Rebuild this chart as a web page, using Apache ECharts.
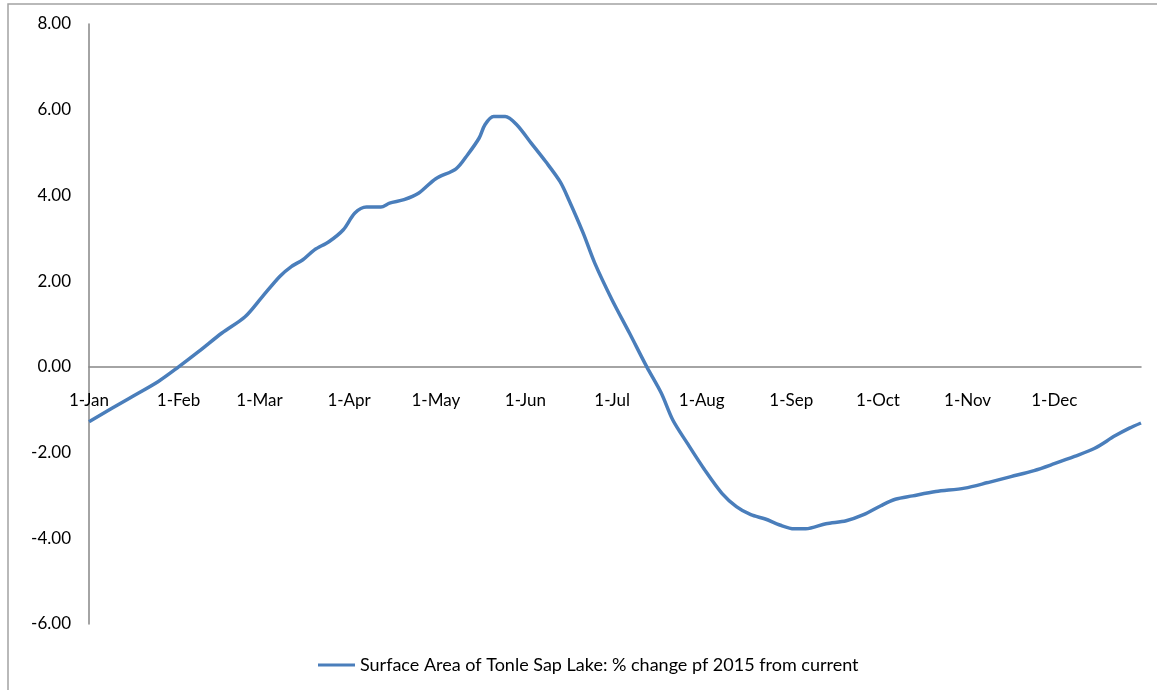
<!DOCTYPE html>
<html>
<head>
<meta charset="utf-8">
<script src="https://cdn.jsdelivr.net/npm/echarts@6/dist/echarts.min.js"></script>
<style>
  html, body { margin: 0; padding: 0; background: #fff; }
  #chart { width: 1157px; height: 690px; }
</style>
</head>
<body>
<div id="chart"></div>
<script>
// day of year (0 = 1-Jan) and % change
var days = [0, 14, 24, 31, 38, 46, 54, 60, 66, 70,
  74, 78, 83, 88, 92, 96, 101, 104, 109, 114,
  120, 127, 131, 135, 137, 140, 144, 148, 153, 158,
  163, 166, 171, 175, 181, 187, 193, 198, 202, 207,
  213, 219, 224, 229, 234, 239, 244, 248, 255, 262,
  268, 274, 279, 285, 293, 303, 311, 319, 327, 334,
  341, 348, 355, 360, 364];
var values = [-1.28, -0.73, -0.34, 0.0, 0.36, 0.79, 1.17, 1.64, 2.11, 2.34,
  2.50, 2.73, 2.92, 3.20, 3.59, 3.73, 3.73, 3.82, 3.90, 4.05,
  4.39, 4.62, 4.95, 5.34, 5.65, 5.84, 5.84, 5.65, 5.22, 4.79,
  4.32, 3.90, 3.12, 2.42, 1.56, 0.79, 0.0, -0.61, -1.24, -1.78,
  -2.40, -2.95, -3.26, -3.45, -3.55, -3.69, -3.78, -3.78, -3.66, -3.59,
  -3.45, -3.24, -3.09, -3.01, -2.91, -2.83, -2.70, -2.56, -2.42, -2.26,
  -2.09, -1.90, -1.61, -1.43, -1.31];

var monthStarts = [0, 31, 59, 90, 120, 151, 181, 212, 243, 273, 304, 334];
var monthLabels = ['1-Jan', '1-Feb', '1-Mar', '1-Apr', '1-May', '1-Jun',
  '1-Jul', '1-Aug', '1-Sep', '1-Oct', '1-Nov', '1-Dec'];

var seriesName = 'Surface Area of Tonle Sap Lake: % change pf 2015 from current';

var points = [];
for (var i = 0; i < days.length; i++) {
    points.push([days[i], values[i]]);
}

var font = 'Lato';
var axisColor = '#868686';

var option = {
    animation: false,
    backgroundColor: '#fff',
    textStyle: { fontFamily: font },
    graphic: [{
        type: 'rect',
        shape: { x: 8, y: 4, width: 1200, height: 720 },
        style: { fill: 'none', stroke: '#a3a3a3', lineWidth: 1.5 },
        silent: true
    }],
    grid: { left: 89, right: 16, top: 24, bottom: 66 },
    legend: {
        left: 313,
        top: 651,
        icon: 'rect',
        itemWidth: 37,
        itemHeight: 3,
        textStyle: { fontFamily: font, fontSize: 18, color: '#000' },
        data: [seriesName]
    },
    xAxis: {
        type: 'value',
        min: 0,
        max: 364,
        axisLine: { onZero: true, lineStyle: { color: axisColor, width: 1.5 } },
        axisTick: { show: false },
        splitLine: { show: false },
        axisLabel: {
            customValues: monthStarts,
            // labels sit just under the zero line, not at the bottom of the plot
            margin: -232,
            fontFamily: font,
            fontSize: 17,
            color: '#000',
            formatter: function (v) {
                var k = monthStarts.indexOf(v);
                return k >= 0 ? monthLabels[k] : '';
            }
        }
    },
    yAxis: {
        type: 'value',
        min: -6,
        max: 8,
        interval: 2,
        axisLine: { show: true, onZero: false, lineStyle: { color: axisColor, width: 1.5 } },
        axisTick: { show: false },
        splitLine: { show: false },
        axisLabel: {
            margin: 18,
            fontFamily: font,
            fontSize: 17,
            color: '#000',
            formatter: function (v) { return v.toFixed(2); }
        }
    },
    series: [{
        name: seriesName,
        type: 'line',
        data: points,
        showSymbol: false,
        smooth: 0.3,
        color: '#4a7ebb',
        lineStyle: { color: '#4a7ebb', width: 3.5 }
    }]
};

var myChart = echarts.init(document.getElementById('chart'));
myChart.setOption(option);
</script>
</body>
</html>
